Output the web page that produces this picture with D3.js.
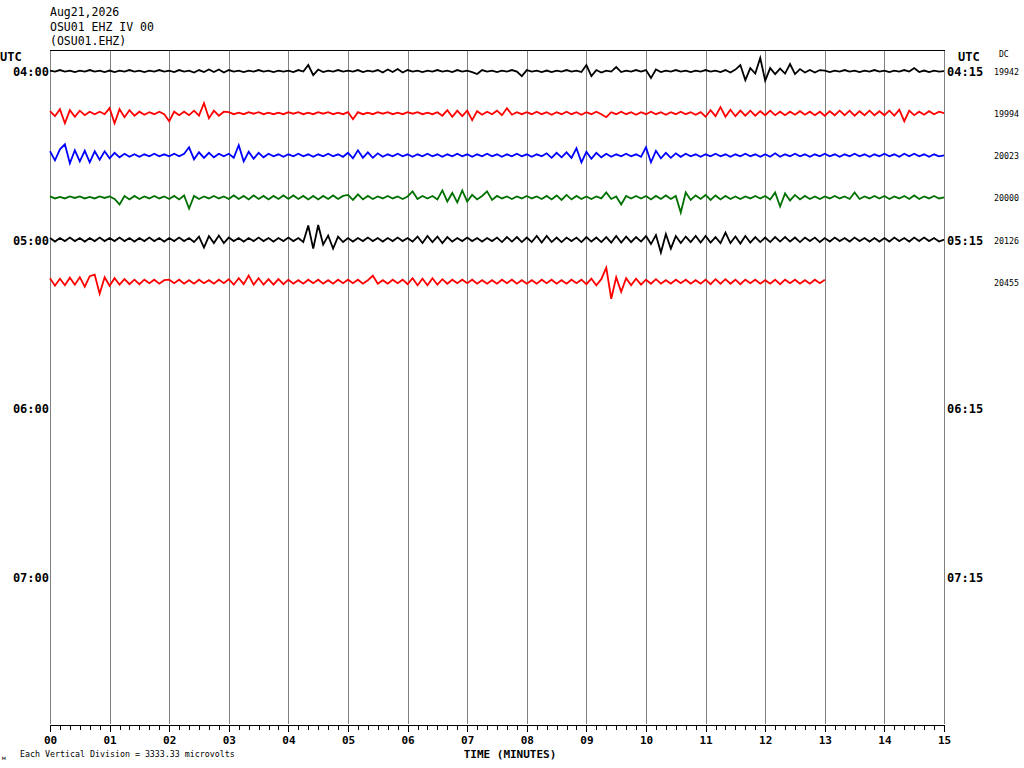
<!DOCTYPE html>
<html>
<head>
<meta charset="utf-8">
<script src="https://cdn.jsdelivr.net/npm/d3@7"></script>
<style>
  body { margin: 0; background: #fff; }
  text { font-family: "DejaVu Sans Mono", monospace; fill: #000; }
</style>
</head>
<body>
<script>
"use strict";

// Header / labels

let titleLines = ["Aug21,2026", "OSU01 EHZ IV 00", "(OSU01.EHZ)"];
let rowStarts = ["04:00", "04:15", "04:30", "04:45", "05:00", "05:15", "05:30", "05:45",
                 "06:00", "06:15", "06:30", "06:45", "07:00", "07:15", "07:30", "07:45"];
let hourRows = [0, 4, 8, 12];
let leftHourLabels = ["04:00", "05:00", "06:00", "07:00"];
let rightHourLabels = ["04:15", "05:15", "06:15", "07:15"];
let dcValues = [19942, 19994, 20023, 20000, 20126, 20455];
let traceColors = ["#000000", "#ff0000", "#0000ff", "#007000"];
let minuteLabels = ["00", "01", "02", "03", "04", "05", "06", "07",
                    "08", "09", "10", "11", "12", "13", "14", "15"];

// Traces: counts relative to DC, one sample every 5 s, 12 per minute

let sampleStep = 5;
let countsPerRow = 420;

let trace0400 = [
  5,-5,10,-5,5,-10,5,-5,10,-5,5,-10,
  5,-10,5,-5,10,-5,5,-10,5,-5,10,-5,
  5,-10,10,-5,5,-15,10,-10,15,-10,15,-15,
  10,-5,5,-10,5,-5,10,-5,5,-10,5,-5,
  5,-10,10,-5,60,-40,15,-10,5,-5,10,-5,
  5,-5,10,-10,5,-5,10,-15,15,-10,20,-15,
  10,-5,5,-10,5,-5,10,-5,5,-10,10,-5,
  5,-10,-30,10,-5,5,-10,5,-5,10,-5,-50,
  10,-5,5,-10,5,-10,5,-5,10,-5,5,-10,
  60,-50,10,-15,5,-5,40,-10,5,-5,10,-5,
  10,-70,15,-10,5,-5,10,-5,5,-10,5,-5,
  10,-5,5,-10,10,-15,15,60,-90,30,-25,130,
  -95,30,-30,25,-25,70,-30,20,-15,10,-15,10,
  5,-10,5,-5,10,-5,5,-10,5,-5,10,-5,
  5,-10,5,-5,10,-5,30,-10,5,-10,5,-5,
  0
];

let trace0415 = [
  20,-30,40,-100,30,-35,25,-20,15,-10,15,-10,
  50,-100,40,-40,30,-25,15,-15,10,-10,15,-10,
  -80,15,-20,15,-20,25,-25,100,-50,25,-25,15,
  10,-10,5,-10,10,-5,10,-10,5,-10,5,-10,
  10,-5,10,-10,5,-10,10,-5,10,-10,5,-10,
  10,-60,10,-10,5,-10,10,-5,10,-10,5,-10,
  10,-5,10,-10,5,-10,10,-25,30,-35,25,-30,
  25,-70,20,-15,15,-10,25,-20,50,-15,10,-10,
  10,-10,15,-10,10,-15,10,-10,15,-10,10,-15,
  10,-10,15,-10,-40,10,-10,15,-10,10,-15,10,
  -10,15,-10,10,-15,10,-10,15,-10,10,-15,10,
  -35,30,-30,60,-35,35,-30,25,-25,25,-25,20,
  -20,25,-20,15,-20,15,-15,20,-15,15,-20,15,
  -25,20,-20,25,-20,25,-25,20,-20,25,-20,20,
  -20,25,-25,35,-80,25,-20,15,-15,20,-10,15,
  0
];

let trace0430 = [
  40,-50,60,110,-80,50,-60,45,-70,40,-45,40,
  -30,25,-20,15,-15,10,-15,10,-10,15,-10,10,
  -10,15,-10,15,80,-40,30,-25,25,-20,15,-10,
  15,-25,100,-60,35,-35,25,-20,15,-10,10,-15,
  10,-10,15,-10,10,-15,10,-10,15,-10,10,-15,
  25,-30,50,-25,30,-25,20,-15,10,-10,15,-10,
  10,-15,10,-10,15,-10,10,-15,10,-10,15,-10,
  10,-15,10,-10,15,-10,10,-15,10,-10,15,-10,
  10,-15,10,-10,20,-25,25,-20,30,-25,70,-70,
  35,-35,25,-20,15,-15,10,-10,15,-10,10,-15,
  80,-70,45,-30,25,-25,20,-15,15,-10,10,-15,
  10,-10,15,-10,10,-15,10,-10,15,-10,10,-15,
  10,-15,20,-15,10,-10,15,-10,10,-15,10,-10,
  15,-10,10,-15,10,-10,15,-10,10,-15,10,-10,
  15,-10,10,-15,15,-10,15,-10,10,-15,10,-10,
  0
];

let trace0445 = [
  10,-10,5,-10,10,-5,10,-10,5,-10,10,-5,
  10,-15,-70,15,-20,15,-15,10,-10,15,-10,10,
  -15,15,-20,20,-110,15,-15,10,-10,15,-10,10,
  -15,20,-15,15,-20,20,-15,15,-20,15,-15,20,
  -15,20,-15,15,-20,15,-20,15,-15,20,-15,15,
  25,-25,30,-20,15,-15,10,-10,15,-10,10,-15,
  10,60,-15,15,-10,15,-20,70,-40,45,-50,70,
  -40,25,-20,15,60,-25,15,-10,10,-15,10,-10,
  15,-10,10,-15,15,-20,20,-25,25,-20,15,-15,
  10,-15,10,-10,50,-15,10,-70,15,-10,15,-10,
  15,-20,15,-15,20,-15,15,-150,50,-25,20,-15,
  25,-25,20,-20,15,-15,10,-15,10,-10,15,-10,
  15,-20,50,-90,40,-30,25,-20,15,-15,10,-15,
  10,-10,15,-10,10,-15,50,-15,10,-10,15,-10,
  15,-15,10,-10,15,-15,20,-15,10,-10,15,-10,
  0
];

let trace0500 = [
  15,-20,15,-15,20,-15,15,-20,15,-15,20,-15,
  15,-15,20,-15,15,-20,15,-15,20,-15,15,-20,
  15,-15,20,-15,15,-25,30,-80,35,-35,40,-35,
  20,-15,15,-20,15,-15,20,-15,15,-20,15,-15,
  20,-15,15,-25,140,-90,145,-50,40,-90,30,-25,
  15,-20,15,-15,20,-15,15,-20,15,-15,20,-15,
  15,-20,30,-35,35,-25,30,-35,25,-20,15,-15,
  20,-15,15,-20,15,-15,20,-25,25,-20,25,-25,
  20,-25,35,-30,35,-25,20,-25,20,-15,20,-25,
  25,-20,20,-25,25,-30,35,-30,30,-25,25,-20,
  35,-45,45,-130,55,-90,35,-35,30,-25,35,-30,
  35,-30,25,-35,70,-35,30,-40,35,-30,25,-25,
  20,-25,25,-20,25,-20,20,-25,20,-15,20,-25,
  15,-20,20,-15,15,-20,20,-15,15,-20,15,-20,
  15,-20,20,-15,15,-20,20,-15,20,-15,15,-20,
  0
];

let trace0515 = [
  35,-40,30,-35,40,-30,45,-50,55,70,-120,45,
  -40,35,-30,25,-25,20,-25,20,-15,20,-20,15,
  20,-15,20,-20,15,-20,20,-15,15,-20,20,-15,
  25,-30,35,-25,60,-30,35,-30,25,-30,25,-25,
  20,-20,15,-20,20,-15,20,-20,15,-20,20,-15,
  20,-15,20,-20,15,60,-20,15,-20,20,-15,20,
  -25,35,-35,30,-35,35,-30,25,-20,20,-15,20,
  -15,20,-20,15,-20,15,-20,20,-15,20,-20,15,
  -20,15,-20,20,-15,20,-20,15,-20,20,-15,20,
  -25,30,-35,25,140,-170,45,-100,35,-35,30,-30,
  20,-20,25,-20,15,-20,20,-15,20,-20,15,-20,
  20,-25,25,-20,25,-20,20,-25,20,-15,20,-20,
  15,-20,20,-25,20,-15,20,-20,15,-20,20,-15,
  20
];

let traces = [trace0400, trace0415, trace0430, trace0445, trace0500, trace0515];

// Layout

let svgWidth = 1024;
let svgHeight = 768;
let plot = {left: 50, right: 944, top: 50, bottom: 724};

let svg = d3.select("body").append("svg")
    .attr("width", svgWidth)
    .attr("height", svgHeight)
    .style("display", "block");

let xScale = d3.scaleLinear()
    .domain([0, 900])
    .range([plot.left, plot.right]);

let rowScale = d3.scaleBand()
    .domain(rowStarts)
    .range([plot.top, plot.bottom]);

let rowStep = rowScale.bandwidth();
let rowCenter = (i) => rowScale(rowStarts[i]) + rowStep / 2;

let ampScale = d3.scaleLinear()
    .domain([-countsPerRow / 2, countsPerRow / 2])
    .range([rowStep / 2, -rowStep / 2]);

// Grid

svg.append("g")
    .selectAll("line")
    .data(d3.range(0, 16))
    .join("line")
    .attr("x1", d => Math.round(xScale(d * 60)) + 0.5)
    .attr("x2", d => Math.round(xScale(d * 60)) + 0.5)
    .attr("y1", plot.top)
    .attr("y2", plot.bottom)
    .style("stroke", "#808080")
    .style("stroke-width", 1);

svg.append("line")
    .attr("x1", plot.left)
    .attr("x2", plot.right + 1)
    .attr("y1", plot.top + 0.5)
    .attr("y2", plot.top + 0.5)
    .style("stroke", "#000");

// Traces

let line = d3.line()
    .x((d, k) => xScale(k * sampleStep))
    .y(d => d);

traces.forEach((values, i) => {
    let c = rowCenter(i);
    svg.append("path")
        .datum(values.map(v => c + ampScale(v)))
        .attr("d", line)
        .style("fill", "none")
        .style("stroke", traceColors[i % traceColors.length])
        .style("stroke-width", 1.8)
        .style("stroke-linejoin", "miter");
});

// Time axis

let minorAxis = d3.axisBottom(xScale)
    .tickValues(d3.range(0, 901, 10))
    .tickSize(5)
    .tickSizeOuter(0)
    .tickFormat("");

let majorAxis = d3.axisBottom(xScale)
    .tickValues(d3.range(0, 901, 60))
    .tickSize(7)
    .tickSizeOuter(0)
    .tickFormat((d, i) => minuteLabels[i]);

let gMinor = svg.append("g")
    .attr("transform", `translate(0, ${plot.bottom + 0.5})`)
    .call(minorAxis);

let gMajor = svg.append("g")
    .attr("transform", `translate(0, ${plot.bottom + 0.5})`)
    .call(majorAxis);

svg.selectAll(".domain, .tick line")
    .style("stroke", "#000")
    .style("stroke-width", 1)
    .attr("shape-rendering", "crispEdges");

gMajor.selectAll(".tick text")
    .attr("y", 19.5)
    .attr("dy", 0)
    .style("font-family", "'DejaVu Sans Mono', monospace")
    .style("font-size", "11px")
    .style("font-weight", "bold")
    .style("fill", "#000");

svg.append("text")
    .attr("x", (plot.left + plot.right) / 2 + 13)
    .attr("y", 758)
    .style("text-anchor", "middle")
    .style("font-size", "11px")
    .style("font-weight", "bold")
    .text("TIME (MINUTES)");

svg.append("text")
    .attr("x", 20)
    .attr("y", 757)
    .style("font-size", "8.3px")
    .text("Each Vertical Division = 3333.33 microvolts");

svg.append("text")
    .attr("x", 2)
    .attr("y", 760)
    .style("font-size", "6px")
    .text("м");

// Title

svg.selectAll(".title")
    .data(titleLines)
    .join("text")
    .attr("class", "title")
    .attr("x", 50)
    .attr("y", (d, i) => 16 + i * 14.5)
    .style("font-size", "11.5px")
    .text(d => d);

// Row labels

svg.append("text")
    .attr("x", 0)
    .attr("y", 61)
    .style("font-size", "12px")
    .style("font-weight", "bold")
    .text("UTC");

svg.append("text")
    .attr("x", 958)
    .attr("y", 61)
    .style("font-size", "12px")
    .style("font-weight", "bold")
    .text("UTC");

svg.append("text")
    .attr("x", 999)
    .attr("y", 57)
    .style("font-size", "8px")
    .text("DC");

hourRows.forEach((r, i) => {
    svg.append("text")
        .attr("x", 49)
        .attr("y", rowCenter(r) + 5)
        .style("text-anchor", "end")
        .style("font-size", "12px")
        .style("font-weight", "bold")
        .text(leftHourLabels[i]);

    svg.append("text")
        .attr("x", 947)
        .attr("y", rowCenter(r) + 5)
        .style("font-size", "12px")
        .style("font-weight", "bold")
        .text(rightHourLabels[i]);
});

dcValues.forEach((v, i) => {
    svg.append("text")
        .attr("x", 994)
        .attr("y", rowCenter(i) + 4)
        .style("font-size", "8.3px")
        .text(v);
});
</script>
</body>
</html>
